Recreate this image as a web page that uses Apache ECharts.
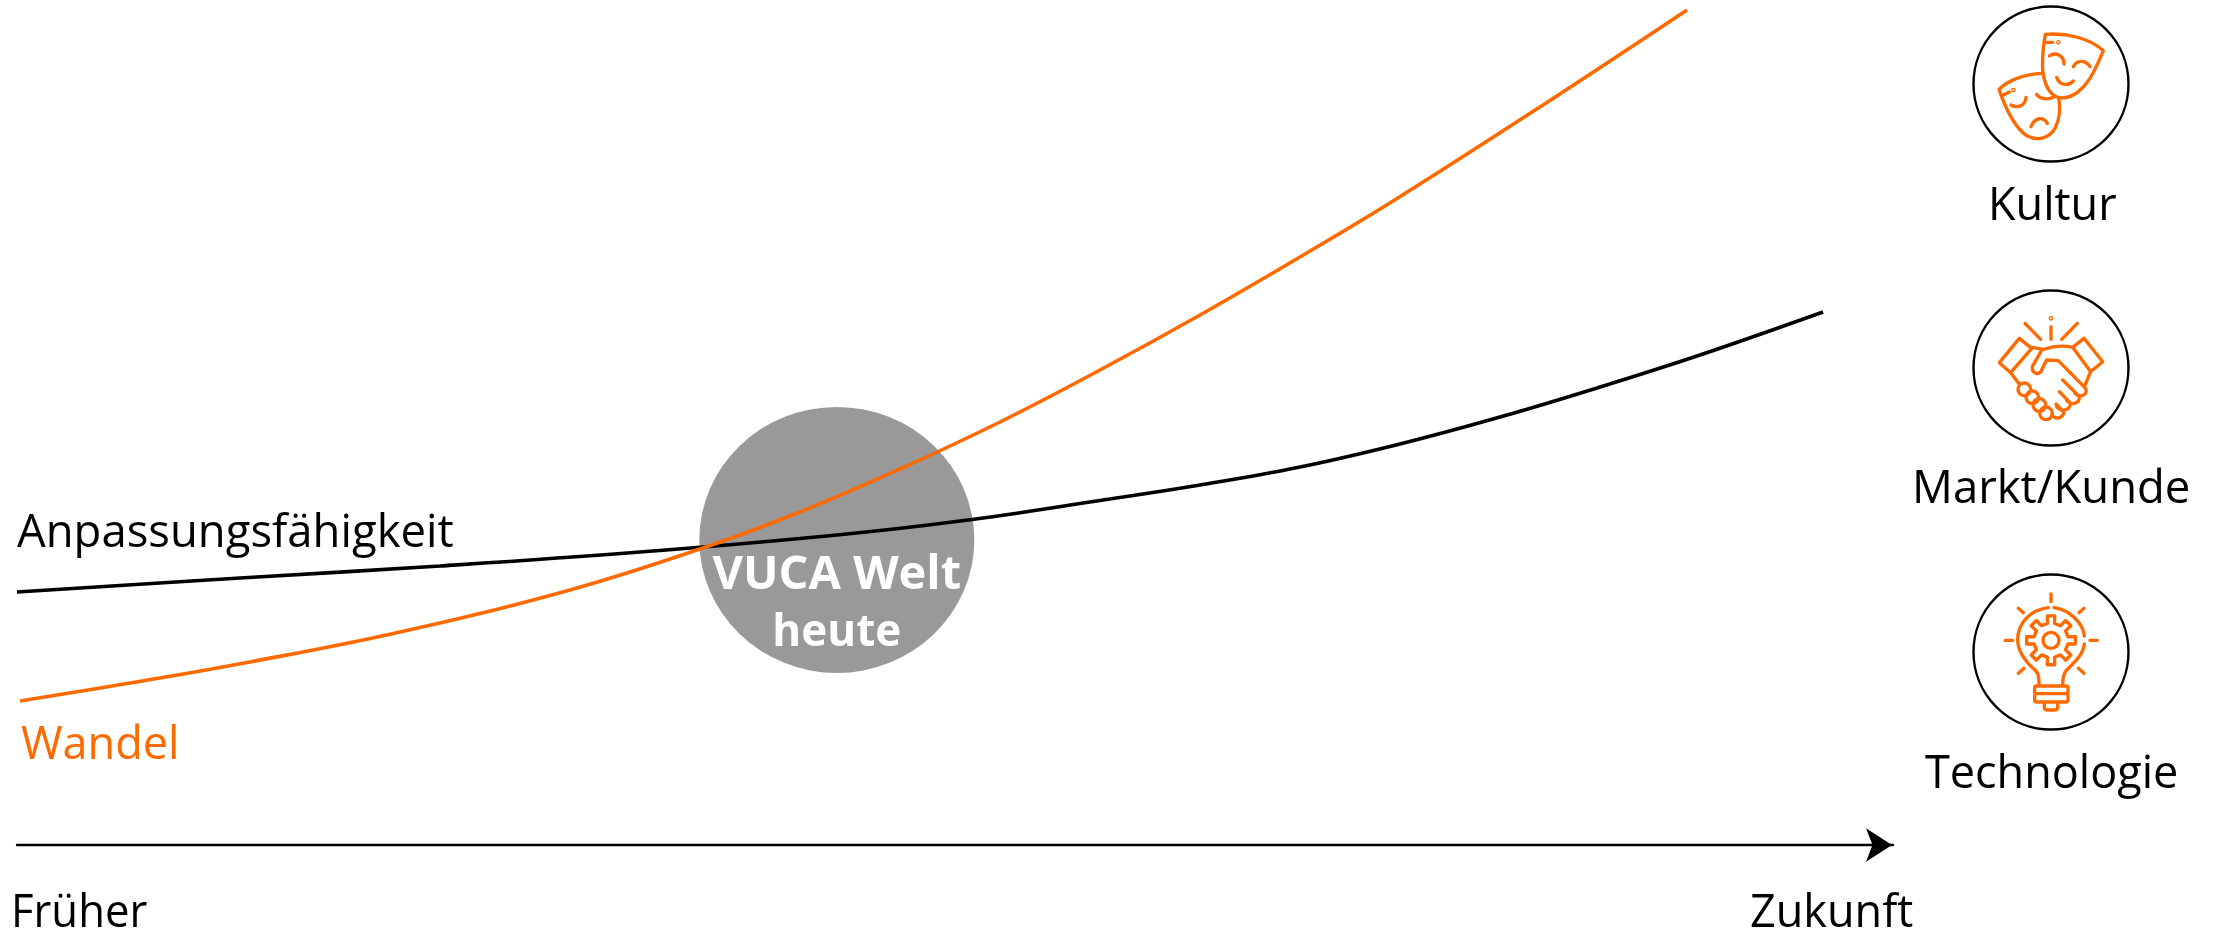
<!DOCTYPE html>
<html><head><meta charset="utf-8">
<style>html,body{margin:0;padding:0;background:#fff}#c{width:2225px;height:932px}</style>
<script src="https://cdn.jsdelivr.net/npm/echarts@6/dist/echarts.min.js"></script>
</head><body><div id="c"></div>
<script>
const anpassungX = [0,11.89,22.55,33.21,43.71,50.27,57.73,63.06,68.39,73.72,79.05,84.38,89.71,96.27];
const anpassungY = [29.94,31.60,33.02,34.67,36.69,38.34,40.77,42.60,44.73,47.46,50.65,54.20,57.99,63.08];
const wandelX = [0.16,6.02,12.42,20.42,29.48,36.41,41.74,47.07,52.40,57.73,63.06,68.39,73.35,81.18,89.02];
const wandelY = [17.04,19.17,21.66,25.21,30.18,35.03,39.41,44.50,50.06,56.21,62.72,69.59,76.21,87.34,98.82];
const vucaPoint = [43.7,36.1];
const orange = '#FF6A00';
const font = '"Open Sans"';

function zip(a,b){return a.map((v,i)=>[v,b[i]]);}
function label(text,x,y,w,color,size){
  return {type:'text',x:x,y:y,scaleX:w,scaleY:1,silent:true,z:10,
    style:{text:text,x:0,y:0,fill:color||'#000',font:(size||45)+'px '+font,textAlign:'left',textVerticalAlign:'middle'}};
}
function ring(cy){
  return {type:'circle',shape:{cx:2051,cy:cy,r:77.5},silent:true,z:5,style:{fill:'none',stroke:'#000',lineWidth:2.4}};
}
function dot(x,y,r){return `M${x-r},${y}A${r},${r} 0 1,0 ${x+r},${y}A${r},${r} 0 1,0 ${x-r},${y}Z`;}
function gear(cx,cy,ro,ri,n){
  let d='';
  for(let i=0;i<n;i++){
    const a=i/n*2*Math.PI-Math.PI/2, s=0.21, t=0.15;
    const p=[[a-s,ri],[a-t,ro],[a+t,ro],[a+s,ri]];
    p.forEach((q,j)=>{d+=((i===0&&j===0)?'M':'L')+(cx+q[1]*Math.cos(q[0])).toFixed(1)+','+(cy+q[1]*Math.sin(q[0])).toFixed(1);});
  }
  return d+'Z';
}
const masks = 'M316,103C380,98 450,115 490,152C470,200 450,245 420,270C395,295 360,300 340,285C315,265 305,220 308,180C308,150 312,125 316,103Z'
 +'M320,127L338,127'+dot(355,127,2)
 +'M328,168C345,155 372,165 372,192M400,200C410,180 435,178 450,200M350,232C358,258 385,258 400,243'
 +'M305,220C255,222 205,240 177,268C195,320 225,385 262,408C290,422 325,418 345,385C360,355 362,325 356,292'
 +'M190,285L208,276'+dot(220,270,2)
 +'M213,315C230,325 255,320 258,292M290,283C300,298 325,300 340,292M273,380C285,350 310,350 322,370';
const hands = 'M255,160L302,208M333,170L333,208M412,160L365,208'+dot(333,145,2)
 +'M238,205L178,278L212,308L275,235ZM432,205L488,275L452,305L398,232Z'
 +'M275,232L310,238C340,228 370,225 398,232'
 +'M305,240L277,290C275,312 300,318 305,300L320,270L355,272L437,355C445,375 420,385 405,370'
 +'M368,330L418,380C420,400 395,408 380,392M358,365L392,400C390,420 365,428 350,410M348,402L372,428C365,448 345,448 335,435'
 +'M212,308L240,345M452,305L435,345'
 +dot(253,358,19)+dot(277,382,19)+dot(298,405,19)+dot(318,430,19);
const bulb = 'M333,102L333,125M235,145L250,158M432,145L417,158M195,241L218,241M450,241L472,241M235,340L252,325M432,340L415,325'
 +'M325,143C270,150 233,190 233,240C233,275 260,310 285,330C295,340 297,350 297,375'
 +'M342,143C390,150 430,190 433,228M433,252C430,285 400,310 380,330C370,340 368,355 368,375'
 +'M290,378L378,378Q384,378 384,384L384,394Q384,401 378,401L290,401Q284,401 284,394L284,384Q284,378 290,378Z'
 +'M290,401L378,401Q384,401 384,408L384,420Q384,426 378,426L290,426Q284,426 284,420L284,408Q284,401 290,401Z'
 +'M313,426L313,442Q313,450 321,450L345,450Q353,450 353,442L353,426'
 +gear(333,241,74,52,8)+dot(333,241,24);
const icons = [[masks,1940,0],[hands,1940,270],[bulb,1940,560]];

const chart = echarts.init(document.getElementById('c'),null,{renderer:'canvas'});
chart.setOption({
  animation:false,
  backgroundColor:'#fff',
  grid:{left:17,right:332,top:0,bottom:87,containLabel:false},
  xAxis:{type:'value',min:0,max:100,splitLine:{show:false},axisTick:{show:false},axisLabel:{show:false},
    axisLine:{show:true,onZero:false,symbol:['none','arrow'],symbolSize:[25,26],symbolOffset:[0,-1],lineStyle:{color:'#000',width:2.4}}},
  yAxis:{type:'value',min:0,max:100,show:false,splitLine:{show:false}},
  series:[
    {type:'scatter',name:'VUCA Welt heute',z:1,symbol:'circle',symbolSize:[275,266],silent:true,
     itemStyle:{color:'#999999',opacity:1},
     label:{show:true,position:'inside',offset:[0,65],formatter:'{a|VUCA Welt}\n{b|heute}',color:'#fff',align:'center',
       rich:{a:{color:'#fff',fontFamily:font,fontWeight:'bold',fontSize:47,lineHeight:58,align:'center'},
             b:{color:'#fff',fontFamily:font,fontWeight:'bold',fontSize:44,lineHeight:58,align:'center'}}},
     data:[vucaPoint]},
    {type:'line',name:'Anpassungsfähigkeit',z:3,smooth:0.4,showSymbol:false,silent:true,lineStyle:{color:'#000',width:3.6,cap:'butt'},data:zip(anpassungX,anpassungY)},
    {type:'line',name:'Wandel',z:4,smooth:0.4,showSymbol:false,silent:true,lineStyle:{color:orange,width:3.6,cap:'butt'},data:zip(wandelX,wandelY)},
    {type:'custom',name:'Icons',coordinateSystem:'none',z:6,silent:true,data:[0,1,2],
     renderItem:function(params){
       const ic=icons[params.dataIndex];
       return {type:'path',x:ic[1],y:ic[2],scaleX:1/3,scaleY:1/3,shape:{pathData:ic[0]},
         style:{fill:'none',stroke:orange,lineWidth:10,lineCap:'round',lineJoin:'round'}};
     }}
  ],
  graphic:{elements:[
    label('Anpassungsfähigkeit',17,534,1.01),
    label('Wandel',21,746,1,orange),
    label('Früher',11,914,0.97),
    label('Zukunft',1750,914,1),
    label('Kultur',1988,207,1),
    label('Markt/Kunde',1912,490,1.01),
    label('Technologie',1925,775,1),
    ring(84),ring(368),ring(652)
  ]}
});
</script></body></html>
